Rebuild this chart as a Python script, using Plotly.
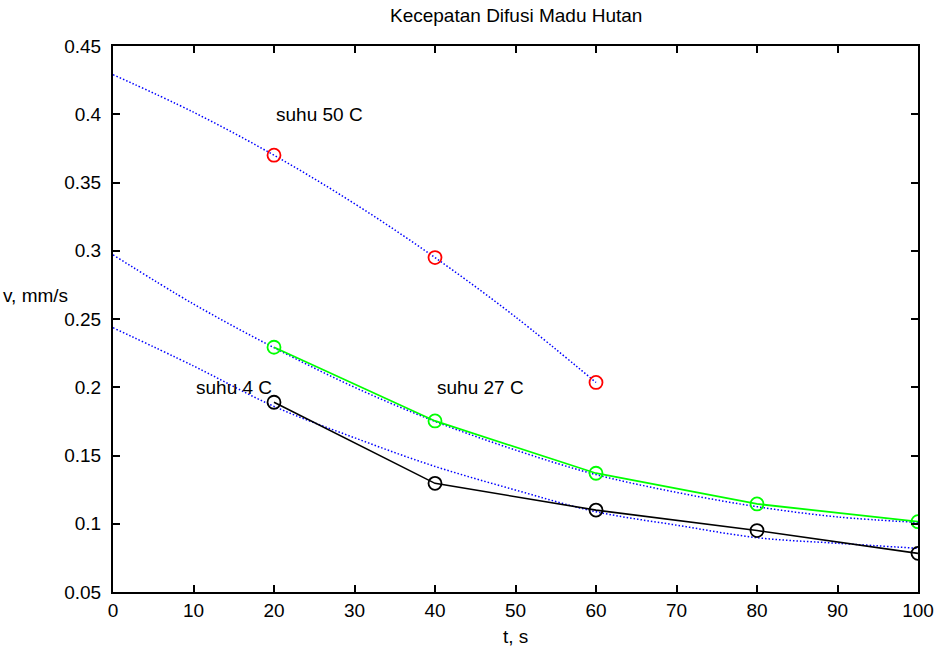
import plotly.graph_objects as go

# measured points
t_50 = [20, 40, 60]
v_50 = [0.370, 0.295, 0.2035]
t_27 = [20, 40, 60, 80, 100]
v_27 = [0.2293, 0.1753, 0.137, 0.1145, 0.1015]
t_4 = [20, 40, 60, 80, 100]
v_4 = [0.189, 0.1296, 0.110, 0.095, 0.0783]

# fitted curves (dotted blue)
fit50_t = [0, 10, 20, 30, 40, 50, 60]
fit50_v = [0.429, 0.4015, 0.370, 0.3345, 0.295, 0.2515, 0.2035]
fit27_t = [0, 10, 20, 30, 40, 50, 60, 70, 80, 90, 100]
fit27_v = [0.297, 0.261, 0.229, 0.200, 0.175, 0.154, 0.136, 0.123, 0.1125, 0.105, 0.101]
fit4_t = [0, 10, 20, 30, 40, 50, 60, 70, 80, 90, 100]
fit4_v = [0.2436, 0.2156, 0.186, 0.163, 0.142, 0.1247, 0.1088, 0.099, 0.0898, 0.0857, 0.082]

labels = ["suhu 50 C", "suhu 27 C", "suhu 4 C"]
label_t = [20, 40, 10]
label_v = [0.4, 0.2, 0.2]

x_ticks = list(range(0, 101, 10))
y_ticks = [0.05, 0.1, 0.15, 0.2, 0.25, 0.3, 0.35, 0.4, 0.45]
y_ticktext = ["0.05", "0.1", "0.15", "0.2", "0.25", "0.3", "0.35", "0.4", "0.45"]

FONT = "Liberation Sans, Arial, sans-serif"
fig = go.Figure()

for tt, vv in [(fit50_t, fit50_v), (fit27_t, fit27_v), (fit4_t, fit4_v)]:
    fig.add_trace(go.Scatter(x=tt, y=vv, mode="lines", line=dict(color="blue", width=1.5, dash="1.5px,2px", shape="spline"),
                             showlegend=False, hoverinfo="skip"))

fig.add_trace(go.Scatter(x=t_27, y=v_27, mode="lines+markers", line=dict(color="#00ff00", width=1.8),
                         marker=dict(symbol="circle-open", size=13, color="#00ff00", line=dict(width=1.8)), showlegend=False))
fig.add_trace(go.Scatter(x=t_4, y=v_4, mode="lines+markers", line=dict(color="black", width=1.6),
                         marker=dict(symbol="circle-open", size=13, color="black", line=dict(width=1.8)), showlegend=False))
fig.add_trace(go.Scatter(x=t_50, y=v_50, mode="markers",
                         marker=dict(symbol="circle-open", size=13, color="red", line=dict(width=1.8)), showlegend=False))

for txt, xx, yy in zip(labels, label_t, label_v):
    fig.add_annotation(x=xx, y=yy, text=txt, showarrow=False, xanchor="left", yanchor="middle",
                       font=dict(family=FONT, size=19, color="black"))

fig.add_annotation(xref="paper", yref="paper", x=0.5, y=1, yshift=18, text="Kecepatan Difusi Madu Hutan",
                   showarrow=False, xanchor="center", yanchor="bottom", font=dict(family=FONT, size=19, color="black"))
fig.add_annotation(xref="paper", yref="paper", x=0.5, y=0, yshift=-32, text="t, s",
                   showarrow=False, xanchor="center", yanchor="top", font=dict(family=FONT, size=19, color="black"))
fig.add_annotation(xref="paper", yref="paper", x=0, xshift=-112, y=0.5, yshift=24, text="v, mm/s",
                   showarrow=False, xanchor="left", yanchor="middle", font=dict(family=FONT, size=19, color="black"))

axis_common = dict(showgrid=False, zeroline=False, showline=True, linecolor="black", linewidth=2,
                   mirror="ticks", ticks="inside", ticklen=7, tickwidth=1.5, tickcolor="black",
                   tickfont=dict(family=FONT, size=19, color="black"))
fig.update_xaxes(range=[0, 100], tickvals=x_ticks, **axis_common)
fig.update_yaxes(range=[0.05, 0.45], tickvals=y_ticks, ticktext=y_ticktext, ticklabelstandoff=6, **axis_common)

fig.update_layout(width=946, height=650, margin=dict(l=113, r=21, t=46, b=58),
                  plot_bgcolor="white", paper_bgcolor="white", font=dict(family=FONT, size=19, color="black"))

fig.write_html("out.html")
